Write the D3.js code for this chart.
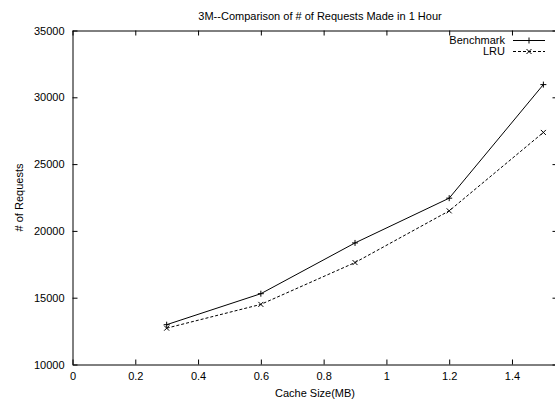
<!DOCTYPE html>
<html>
<head>
<meta charset="utf-8">
<script src="https://cdn.jsdelivr.net/npm/d3@7"></script>
<style>
  html, body { margin: 0; padding: 0; background: #fff; }
  svg { display: block; font-family: "Liberation Sans", Arial, sans-serif; }
</style>
</head>
<body>
<svg id="chart" width="555" height="402"></svg>
<script>
// ---- data ----
const cacheSizes = [0.3, 0.6, 0.9, 1.2, 1.5];
const benchmark = [12980, 15300, 19100, 22450, 30950];
const lru = [12720, 14500, 17630, 21500, 27370];
const xTickValues = [0, 0.2, 0.4, 0.6, 0.8, 1.0, 1.2, 1.4];
const yTickValues = [10000, 15000, 20000, 25000, 30000, 35000];
const seriesNames = ["Benchmark", "LRU"];
const titleText = "3M--Comparison of # of Requests Made in 1 Hour";
const xLabel = "Cache Size(MB)";
const yLabel = "# of Requests";

// ---- layout ----
const W = 555, H = 402;
const pLeft = 72.5, pRight = 557.5, pTop = 30.5, pBottom = 364.5;
const svg = d3.select("#chart");
svg.append("rect").attr("width", W).attr("height", H).attr("fill", "#fff");

const x = d3.scaleLinear().domain([0, 1.545]).range([pLeft, pRight]);
const y = d3.scaleLinear().domain([10000, 35000]).range([pBottom, pTop]);

const fmtX = d => (d === 0 ? "0" : d === 1 ? "1" : d3.format(".1f")(d));

function styleAxis(g) {
  g.selectAll("path.domain").attr("stroke", "#000").attr("stroke-width", 1);
  g.selectAll(".tick line").attr("stroke", "#000").attr("stroke-width", 1);
  g.selectAll("text").attr("fill", "#000").attr("font-size", "11px")
    .attr("font-family", "Liberation Sans, Arial, sans-serif");
}

svg.append("g").attr("transform", `translate(0,${pBottom})`)
  .call(d3.axisBottom(x).tickValues(xTickValues).tickFormat(fmtX)
    .tickSizeInner(-5).tickSizeOuter(0).tickPadding(8))
  .call(styleAxis);

svg.append("g").attr("transform", `translate(0,${pTop})`)
  .call(d3.axisTop(x).tickValues(xTickValues).tickFormat("")
    .tickSizeInner(-5).tickSizeOuter(0))
  .call(styleAxis);

svg.append("g").attr("transform", `translate(${pLeft},0)`)
  .call(d3.axisLeft(y).tickValues(yTickValues).tickFormat(d3.format("d"))
    .tickSizeInner(-5).tickSizeOuter(0).tickPadding(8))
  .call(styleAxis);

svg.append("g").attr("transform", `translate(${pRight},0)`)
  .call(d3.axisRight(y).tickValues(yTickValues).tickFormat("")
    .tickSizeInner(-5).tickSizeOuter(0))
  .call(styleAxis);

// ---- titles ----
svg.append("text").attr("x", 320).attr("y", 20).attr("text-anchor", "middle")
  .attr("font-size", "11px").attr("fill", "#000").text(titleText);
svg.append("text").attr("x", (pLeft + pRight) / 2).attr("y", 397).attr("text-anchor", "middle")
  .attr("font-size", "11px").attr("fill", "#000").text(xLabel);
svg.append("text").attr("transform", `translate(23,${(pTop + pBottom) / 2}) rotate(-90)`)
  .attr("text-anchor", "middle").attr("font-size", "11px").attr("fill", "#000").text(yLabel);

// ---- series ----
const line = d3.line().x(d => x(d[0])).y(d => y(d[1]));
const benchPts = cacheSizes.map((c, i) => [c, benchmark[i]]);
const lruPts = cacheSizes.map((c, i) => [c, lru[i]]);

svg.append("path").datum(benchPts).attr("d", line)
  .attr("fill", "none").attr("stroke", "#000").attr("stroke-width", 1);
svg.append("path").datum(lruPts).attr("d", line)
  .attr("fill", "none").attr("stroke", "#000").attr("stroke-width", 1)
  .attr("stroke-dasharray", "3,2");

function plus(g, cx, cy, r) {
  g.append("path").attr("d", `M${cx - r},${cy}H${cx + r}M${cx},${cy - r}V${cy + r}`)
    .attr("stroke", "#000").attr("stroke-width", 1).attr("fill", "none");
}
function cross(g, cx, cy, r) {
  g.append("path").attr("d", `M${cx - r},${cy - r}L${cx + r},${cy + r}M${cx - r},${cy + r}L${cx + r},${cy - r}`)
    .attr("stroke", "#000").attr("stroke-width", 1).attr("fill", "none");
}
const mk = svg.append("g");
benchPts.forEach(d => plus(mk, x(d[0]), y(d[1]), 3));
lruPts.forEach(d => cross(mk, x(d[0]), y(d[1]), 2.5));

// ---- legend ----
const legend = svg.append("g");
const legendRows = [40.5, 51.5];
seriesNames.forEach((name, i) => {
  const ly = legendRows[i];
  legend.append("text").attr("x", 505).attr("y", ly).attr("dy", "0.35em")
    .attr("text-anchor", "end").attr("font-size", "11px").attr("fill", "#000").text(name);
  const l = legend.append("line").attr("x1", 513).attr("x2", 545).attr("y1", ly).attr("y2", ly)
    .attr("stroke", "#000").attr("stroke-width", 1);
  if (i === 1) l.attr("stroke-dasharray", "3,2");
  if (i === 0) plus(legend, 529, ly, 3); else cross(legend, 529, ly, 2.5);
});
</script>
</body>
</html>
